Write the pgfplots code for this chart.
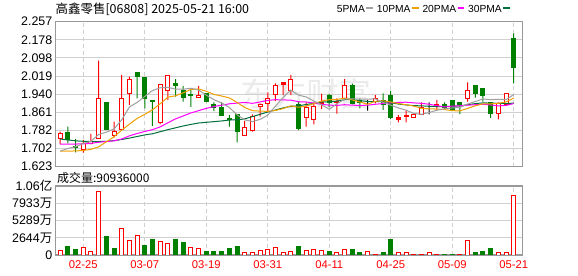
\documentclass[border=0pt]{standalone}
\usepackage{pgfplots}
\pgfplotsset{compat=1.18}
\usepackage{pgfplotstable}
\usepackage{fontspec}
\setmainfont{Liberation Sans}
\newfontfamily\cjk{Noto Sans CJK SC}
\definecolor{upred}{HTML}{FF0000}
\definecolor{dngreen}{HTML}{008000}
\definecolor{maA}{HTML}{A0A0A0}
\definecolor{maB}{HTML}{F0A000}
\definecolor{maC}{HTML}{FF00FF}
\definecolor{maD}{HTML}{00703C}
\definecolor{gridc}{HTML}{D0D0D0}
\definecolor{framec}{HTML}{999999}

% candles: i open high low close
\pgfplotstableread{
i o h l c
0 1.747 1.776 1.722 1.766
3 1.699 1.740 1.684 1.725
4 1.723 1.766 1.721 1.732
5 1.747 2.087 1.747 1.922
7 1.761 1.820 1.750 1.776
8 1.786 2.024 1.786 1.922
9 1.941 2.017 1.893 2.006
13 1.815 1.983 1.808 1.983
14 1.957 2.021 1.915 2.021
18 1.926 1.976 1.926 1.935
24 1.759 1.823 1.759 1.795
25 1.783 1.852 1.776 1.842
26 1.887 1.900 1.842 1.896
27 1.900 1.948 1.866 1.922
28 1.939 1.987 1.910 1.976
30 1.957 2.024 1.936 2.005
32 1.837 1.904 1.798 1.884
33 1.830 1.904 1.808 1.886
37 1.922 2.006 1.922 1.976
41 1.907 1.936 1.900 1.922
46 1.840 1.852 1.840 1.852
47 1.852 1.904 1.852 1.882
53 1.919 1.992 1.907 1.954
57 1.856 1.904 1.830 1.900
58 1.896 1.944 1.896 1.944
}\upT
\pgfplotstableread{
i o h l c
29 1.984 1.992 1.936 1.992
34 1.898 1.942 1.876 1.905
36 1.902 1.922 1.855 1.907
44 1.831 1.849 1.817 1.837
45 1.843 1.871 1.817 1.848
49 1.890 1.915 1.871 1.895
}\flatT
\pgfplotstableread{
i o h l c
1 1.773 1.798 1.725 1.742
2 1.713 1.744 1.686 1.706
6 1.904 1.904 1.786 1.786
10 2.035 2.035 1.922 2.018
11 2.015 2.015 1.878 1.922
12 1.913 1.913 1.801 1.907
15 1.986 2.006 1.929 1.980
16 1.954 1.976 1.907 1.925
17 1.940 1.958 1.885 1.933
19 1.941 1.944 1.905 1.907
20 1.896 1.904 1.866 1.882
21 1.882 1.904 1.846 1.846
22 1.835 1.849 1.798 1.828
23 1.852 1.852 1.729 1.776
31 1.896 1.910 1.783 1.791
35 1.936 1.940 1.885 1.904
38 1.976 1.986 1.896 1.900
39 1.912 1.922 1.878 1.905
42 1.913 1.944 1.871 1.896
43 1.936 1.954 1.831 1.837
50 1.897 1.904 1.875 1.881
51 1.913 1.913 1.866 1.875
52 1.904 1.904 1.853 1.896
54 1.976 1.976 1.925 1.945
55 1.966 1.966 1.907 1.936
56 1.904 1.904 1.837 1.855
59 2.184 2.206 1.987 2.056
}\downT
\pgfplotstableread{
i o h l c
40 1.901 1.915 1.868 1.901
48 1.882 1.904 1.852 1.882
}\crossT
% moving averages
\pgfplotstableread{
i m5 m10 m20 m30
0 1.691 1.691 1.722 1.744
1 1.703 1.691 1.722 1.740
2 1.710 1.692 1.722 1.736
3 1.725 1.694 1.723 1.734
4 1.734 1.699 1.725 1.733
5 1.764 1.710 1.730 1.733
6 1.774 1.732 1.733 1.734
7 1.788 1.754 1.736 1.737
8 1.828 1.783 1.744 1.742
9 1.884 1.809 1.758 1.748
10 1.904 1.834 1.768 1.755
11 1.930 1.852 1.777 1.762
12 1.956 1.872 1.785 1.767
13 1.968 1.898 1.797 1.776
14 1.970 1.927 1.815 1.785
15 1.962 1.933 1.832 1.793
16 1.962 1.946 1.845 1.801
17 1.966 1.961 1.858 1.808
18 1.958 1.963 1.868 1.814
19 1.936 1.953 1.878 1.817
20 1.916 1.939 1.886 1.820
21 1.902 1.932 1.892 1.823
22 1.882 1.924 1.898 1.827
23 1.850 1.904 1.901 1.828
24 1.828 1.882 1.904 1.832
25 1.820 1.868 1.900 1.842
26 1.830 1.866 1.906 1.852
27 1.848 1.865 1.913 1.862
28 1.888 1.869 1.916 1.871
29 1.926 1.877 1.915 1.880
30 1.958 1.889 1.914 1.887
31 1.936 1.883 1.907 1.889
32 1.928 1.888 1.906 1.895
33 1.910 1.899 1.901 1.900
34 1.894 1.910 1.896 1.906
35 1.874 1.916 1.892 1.906
36 1.898 1.917 1.891 1.910
37 1.918 1.923 1.894 1.916
38 1.920 1.915 1.892 1.916
39 1.918 1.906 1.891 1.912
40 1.918 1.896 1.892 1.908
41 1.920 1.909 1.896 1.908
42 1.904 1.911 1.899 1.908
43 1.892 1.906 1.902 1.903
44 1.880 1.899 1.904 1.897
45 1.870 1.894 1.905 1.893
46 1.856 1.888 1.902 1.890
47 1.852 1.878 1.900 1.889
48 1.860 1.876 1.896 1.887
49 1.870 1.875 1.890 1.886
50 1.876 1.873 1.884 1.886
51 1.880 1.868 1.888 1.887
52 1.882 1.867 1.889 1.889
53 1.897 1.878 1.892 1.894
54 1.908 1.889 1.894 1.899
55 1.919 1.898 1.896 1.902
56 1.916 1.898 1.893 1.901
57 1.918 1.900 1.889 1.900
58 1.916 1.906 1.891 1.899
59 1.938 1.923 1.899 1.901
}\maT
% volume (unit: 10^4 shares)
\pgfplotstableread{
i v
0 720
3 1180
4 560
5 9810
8 4090
9 2250
10 3010
13 2100
14 1790
17 1180
18 1020
24 310
25 410
26 720
27 870
28 1180
29 410
30 560
32 720
33 870
34 720
36 310
37 870
40 560
41 150
44 410
45 310
46 150
47 150
48 310
49 150
52 150
53 2150
57 310
58 410
59 9093.6
}\volR
\pgfplotstableread{
i v
1 1230
2 770
6 2760
7 920
11 1530
12 2450
15 2300
16 1840
19 460
20 460
21 610
22 1070
23 1230
31 1230
35 460
38 770
39 310
42 310
43 2450
50 150
51 150
54 310
55 460
56 1070
}\volG

\pgfplotsset{
  priceax/.style={scale only axis, width=466.8bp, height=145bp,
    at={(55.5bp,109.3bp)}, anchor=south west,
    xmin=-0.618, xmax=60.12, ymin=1.623, ymax=2.257},
  volax/.style={scale only axis, width=466.8bp, height=69bp,
    at={(55.5bp,21bp)}, anchor=south west,
    xmin=-0.618, xmax=60.12, ymin=0, ymax=10578},
  frame/.style={axis line style={framec, line width=1.3bp},
    major tick length=0pt,
    xmajorgrids, ymajorgrids,
    y grid style={gridc, line width=1bp},
    x grid style={gridc, line width=1bp, dash pattern=on 4bp off 3bp},
    xtick={3,11,19,27,35,43,51,59},
    yticklabel style={font=\fontsize{12.5}{13}\selectfont, inner sep=0pt, anchor=east, xshift=-3bp},
    scaled y ticks=false},
  candle/.style={priceax, hide axis, ybar stacked, clip=true},
}

\begin{document}
\begin{tikzpicture}
\useasboundingbox (0,0) rectangle (578bp,276bp);
\fill[white] (0,0) rectangle (578bp,276bp);
\node[text=black!8, inner sep=0] at (306bp,182bp) {\cjk\fontsize{33}{33}\selectfont 东方财富};

% price frame
\begin{axis}[priceax, frame,
  ytick={1.623,1.70225,1.7815,1.86075,1.94,2.01925,2.0985,2.17775,2.257},
  yticklabels={1.623,1.702,1.782,1.861,1.940,2.019,2.098,2.178,2.257},
  xticklabel=\empty]
\addplot[draw=none] coordinates {(0,1.7)};
\end{axis}

% rising candles (hollow red)
\begin{axis}[candle]
\addplot[draw=none, fill=none, bar width=1bp] table[x=i, y=l] \upT;
\addplot[draw=none, fill=upred, bar width=1bp] table[x=i, y expr=\thisrow{o}-\thisrow{l}] \upT;
\addplot[draw=upred, fill=white, line width=1bp, bar width=4bp] table[x=i, y expr=\thisrow{c}-\thisrow{o}] \upT;
\addplot[draw=none, fill=upred, bar width=1bp] table[x=i, y expr=\thisrow{h}-\thisrow{c}] \upT;
\end{axis}
% small rising candles (filled red)
\begin{axis}[candle]
\addplot[draw=none, fill=none, bar width=1bp] table[x=i, y=l] \flatT;
\addplot[draw=none, fill=upred, bar width=1bp] table[x=i, y expr=\thisrow{o}-\thisrow{l}] \flatT;
\addplot[draw=upred, fill=upred, line width=1bp, bar width=4bp] table[x=i, y expr=\thisrow{c}-\thisrow{o}] \flatT;
\addplot[draw=none, fill=upred, bar width=1bp] table[x=i, y expr=\thisrow{h}-\thisrow{c}] \flatT;
\end{axis}
% falling candles (filled green)
\begin{axis}[candle]
\addplot[draw=none, fill=none, bar width=1bp] table[x=i, y=l] \downT;
\addplot[draw=none, fill=dngreen, bar width=1bp] table[x=i, y expr=\thisrow{c}-\thisrow{l}] \downT;
\addplot[draw=dngreen, fill=dngreen, line width=1bp, bar width=4bp] table[x=i, y expr=\thisrow{o}-\thisrow{c}] \downT;
\addplot[draw=none, fill=dngreen, bar width=1bp] table[x=i, y expr=\thisrow{h}-\thisrow{o}] \downT;
\end{axis}
% doji crosses (black)
\begin{axis}[candle]
\addplot[draw=none, fill=none, bar width=1bp] table[x=i, y=l] \crossT;
\addplot[draw=none, fill=black, bar width=1bp] table[x=i, y expr=\thisrow{o}-\thisrow{l}] \crossT;
\addplot[draw=black, fill=black, line width=1bp, bar width=4bp] table[x=i, y expr=\thisrow{c}-\thisrow{o}] \crossT;
\addplot[draw=none, fill=black, bar width=1bp] table[x=i, y expr=\thisrow{h}-\thisrow{c}] \crossT;
\end{axis}

% moving averages
\begin{axis}[priceax, hide axis]
\addplot[maD, line width=1bp, mark=none] table[x=i, y=m30] \maT;
\addplot[maC, line width=1bp, mark=none] table[x=i, y=m20] \maT;
\addplot[maB, line width=1bp, mark=none] table[x=i, y=m10] \maT;
\addplot[maA, line width=1bp, mark=none] table[x=i, y=m5] \maT;
\end{axis}

% volume
\begin{axis}[volax, frame,
  ytick={0,2644.5,5289,7933.5,10578},
  yticklabels={0,{2644{\cjk 万}},{5289{\cjk 万}},{7933{\cjk 万}},{1.06{\cjk 亿}}},
  xticklabels={02-25,03-07,03-19,03-31,04-11,04-25,05-09,05-21},
  xticklabel style={font=\fontsize{11.3}{12}\selectfont, text=upred, inner sep=0pt, anchor=north, yshift=-5bp},
  ybar, bar width=4bp]
\addplot[draw=upred, fill=white, line width=1bp, bar shift=0pt] table[x=i, y=v] \volR;
\addplot[draw=dngreen, fill=dngreen, line width=1bp, bar shift=0pt] table[x=i, y=v] \volG;
\end{axis}

% texts
\node[anchor=west, inner sep=0] at (55.5bp,267bp) {\cjk\fontsize{12.5}{13}\selectfont 高鑫零售[06808] 2025-05-21 16:00};
\node[anchor=east, inner sep=0] at (510bp,267.5bp) {\fontsize{10.3}{12}\selectfont
  5PMA\hspace{1.5bp}\textcolor{maA}{\rule[3bp]{6.5bp}{2.5bp}}\hspace{4bp}%
  10PMA\hspace{1.5bp}\textcolor{maB}{\rule[3bp]{6.5bp}{2.5bp}}\hspace{4bp}%
  20PMA\hspace{1.5bp}\textcolor{maC}{\rule[3bp]{6.5bp}{2.5bp}}\hspace{4bp}%
  30PMA\hspace{1.5bp}\textcolor{maD}{\rule[3bp]{6.5bp}{2.5bp}}};
\node[anchor=west, inner sep=0] at (57bp,98.5bp) {\cjk\fontsize{12}{13}\selectfont 成交量:90936000};
\end{tikzpicture}
\end{document}
